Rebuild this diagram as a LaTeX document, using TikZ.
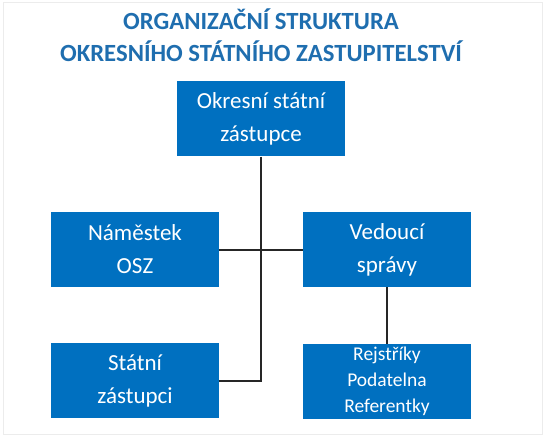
\documentclass[tikz,border=0pt]{standalone}
\usepackage{fontspec}
\setmainfont{Carlito}
\definecolor{boxblue}{HTML}{0070C0}
\definecolor{titleblue}{RGB}{31,110,175}
\definecolor{frame}{RGB}{236,236,236}
\begin{document}
\begin{tikzpicture}[x=1bp,y=-1bp,
  orgbox/.style={fill=boxblue,draw=none,text=white,inner sep=0pt,
    minimum width=168bp,minimum height=75bp,align=center,
    font=\fontsize{23bp}{33bp}\selectfont},
  smallbox/.style={orgbox,font=\fontsize{19.5bp}{26bp}\selectfont},
  link/.style={draw=black!85,line width=1.1bp}]
\useasboundingbox (0,0) rectangle (545,440);
\draw[frame,line width=1bp] (3,3) rectangle (542,434);
\node[text=titleblue,align=center,font=\bfseries\fontsize{24.7bp}{32bp}\selectfont] (title) at (261,35)
  {ORGANIZAČNÍ STRUKTURA\\OKRESNÍHO STÁTNÍHO ZASTUPITELSTVÍ};
\node[orgbox] (osz) at (261,119) {Okresní státní\\zástupce};
\node[orgbox] (nam) at (135,249.5) {Náměstek\\OSZ};
\node[orgbox] (ved) at (387,249.5) {Vedoucí\\správy};
\node[orgbox] (sz) at (135,380.5) {Státní\\zástupci};
\node[smallbox] (rej) at (387,381.5) {Rejstříky\\Podatelna\\Referentky};
\coordinate (junc) at (261,250);
\coordinate (bend) at (261,381);
\draw[link] (osz.south) -- (bend) -- (sz.east |- bend);
\draw[link] (nam.east |- junc) -- (ved.west |- junc);
\draw[link] (ved.south) -- (rej.north);
\end{tikzpicture}
\end{document}
